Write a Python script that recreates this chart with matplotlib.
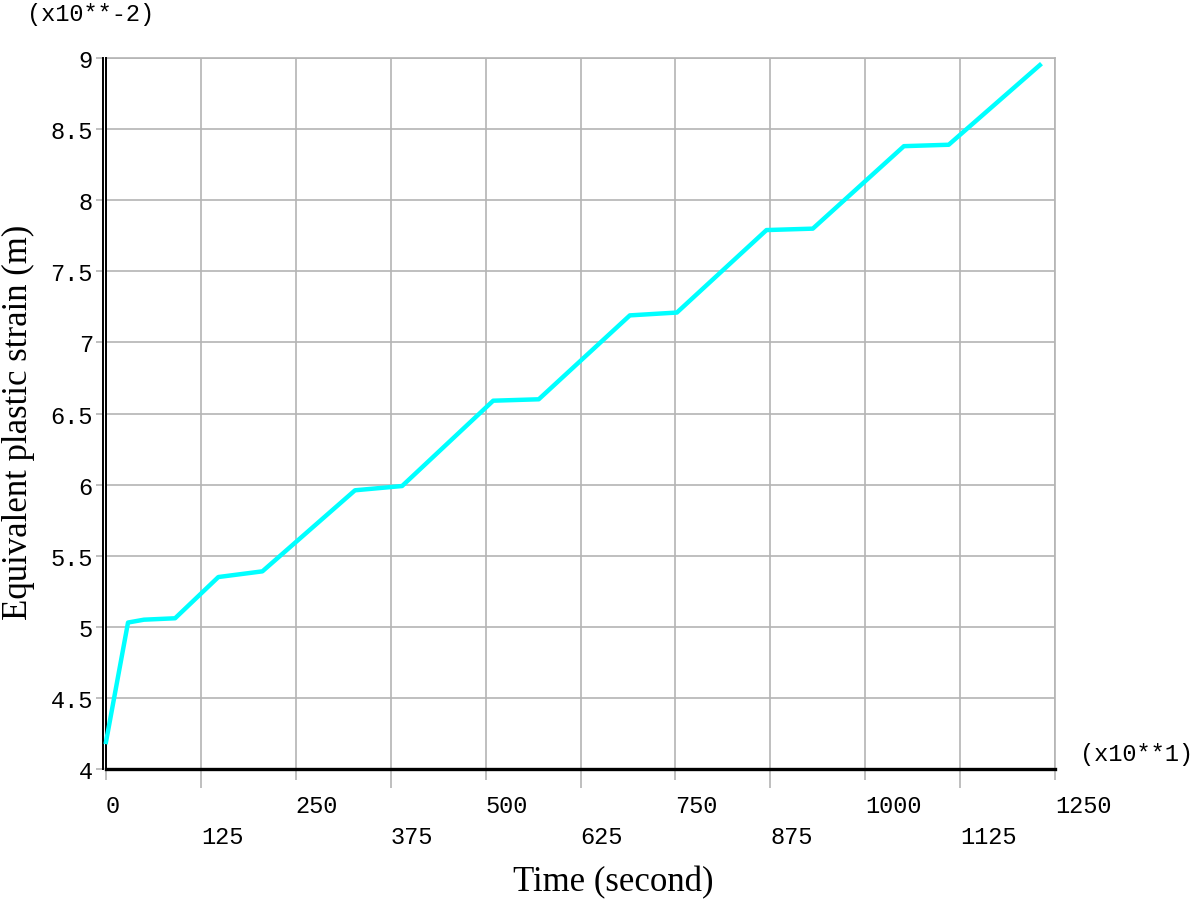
import matplotlib.pyplot as plt

# ----------------------------
# Data
# ----------------------------
time_x10 = [0, 29, 50, 91, 148, 206, 328, 390, 510, 570, 690, 752, 870, 931, 1051, 1110, 1230]
strain_x100 = [4.19, 5.03, 5.05, 5.06, 5.35, 5.39, 5.96, 5.99, 6.59, 6.60, 7.19, 7.21, 7.79, 7.80, 8.38, 8.39, 8.95]

x_major = [0, 250, 500, 750, 1000, 1250]
x_minor = [125, 375, 625, 875, 1125]
y_ticks = [4, 4.5, 5, 5.5, 6, 6.5, 7, 7.5, 8, 8.5, 9]
y_labels = ["4", "4.5", "5", "5.5", "6", "6.5", "7", "7.5", "8", "8.5", "9"]

mono = "Liberation Mono"
serif = "Liberation Serif"
grid_c = "#b4b4b4"

fig = plt.figure(figsize=(12, 9.04), dpi=100)
ax = fig.add_axes([106 / 1200, 1 - 770 / 904, 949 / 1200, 711 / 904])

# spines first (set_position resets the ticks)
for s in ["top", "right"]:
    ax.spines[s].set_color(grid_c)
    ax.spines[s].set_linewidth(1.2)
ax.spines["bottom"].set_color("black")
ax.spines["bottom"].set_linewidth(2.4)
ax.spines["left"].set_color("black")
ax.spines["left"].set_linewidth(1.4)
ax.spines["left"].set_position(("outward", 2.5))

ax.plot(time_x10, strain_x100, color="#00ffff", lw=3.2, zorder=5, clip_on=False)

# second line of the double left axis
ax.plot([0, 0], [0, 1], transform=ax.transAxes, color="black", lw=1.4, clip_on=False, zorder=4)

ax.set_xlim(0, 1250)
ax.set_ylim(4, 9)

ax.set_xticks(x_major)
ax.set_xticks(x_minor, minor=True)
ax.set_xticklabels([str(v) for v in x_major], ha="left")
ax.set_xticklabels([str(v) for v in x_minor], minor=True, ha="left")
ax.tick_params(axis="x", which="major", length=8, width=1.2, color=grid_c, pad=10)
ax.tick_params(axis="x", which="minor", length=14, width=1.2, color=grid_c, pad=26)

ax.set_yticks(y_ticks)
ax.set_yticklabels(y_labels)
ax.tick_params(axis="y", length=5, width=1.2, color=grid_c, pad=2)
ax.tick_params(axis="both", which="both", labelsize=17, labelfontfamily=mono)

ax.grid(True, which="both", axis="x", color=grid_c, lw=1.2)
ax.grid(True, which="major", axis="y", color=grid_c, lw=1.2)
ax.set_axisbelow(True)

ax.set_xlabel("Time (second)", fontfamily=serif, fontsize=25)
ax.xaxis.set_label_coords(0.535, -0.135)
ax.set_ylabel("Equivalent plastic strain (m)", fontfamily=serif, fontsize=25)
ax.yaxis.set_label_coords(-0.075, 0.489)

fig.text(27 / 1200, 1 - 15 / 904, "(x10**-2)", fontfamily=mono, fontsize=17, va="center", ha="left")
fig.text(1080 / 1200, 1 - 755 / 904, "(x10**1)", fontfamily=mono, fontsize=17, va="center", ha="left")

plt.savefig("out.png", dpi=100)
